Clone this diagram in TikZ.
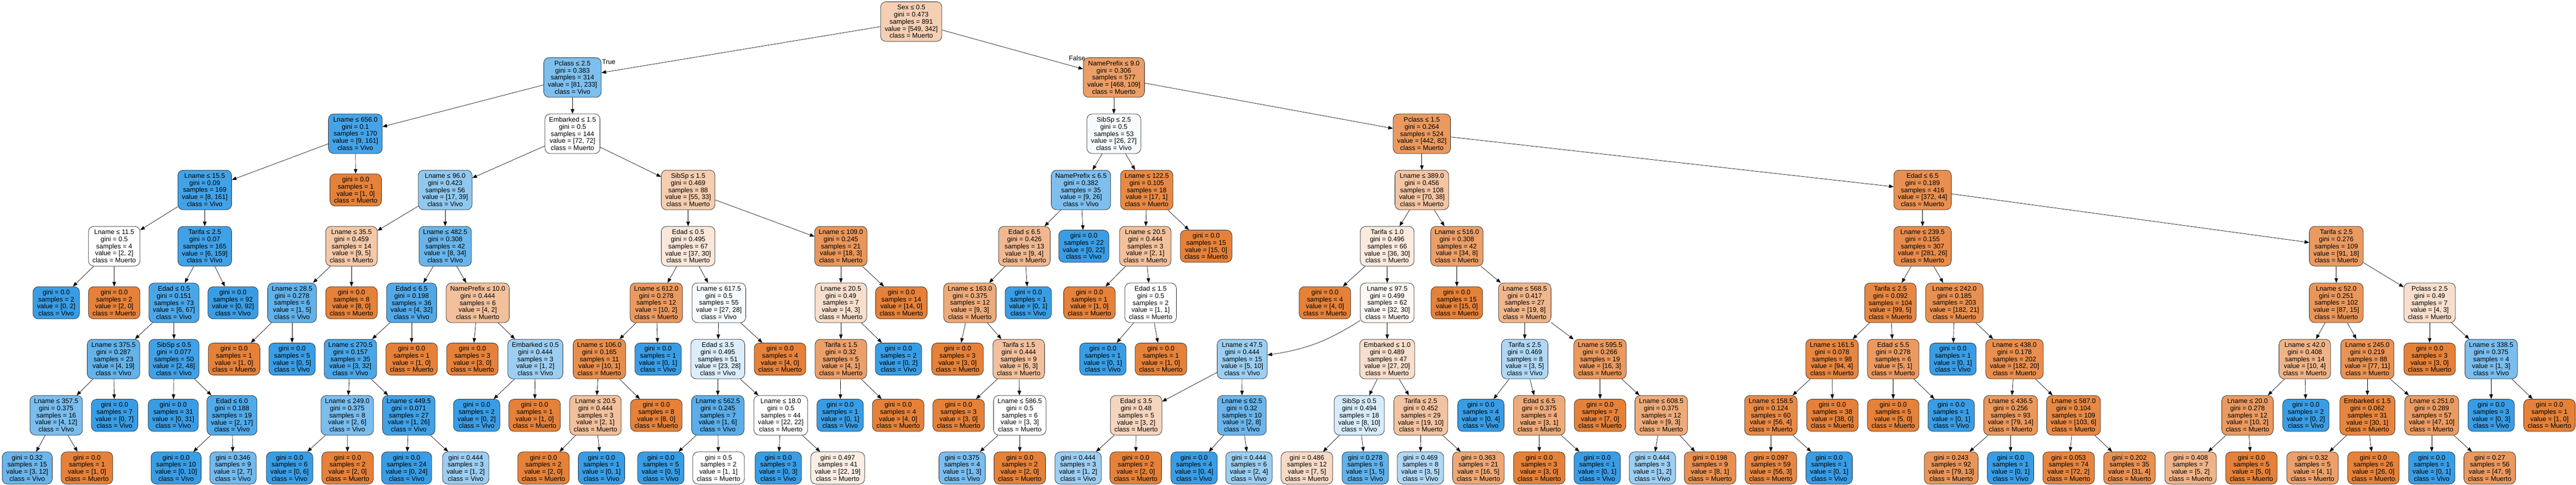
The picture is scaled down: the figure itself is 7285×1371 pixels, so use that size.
\documentclass[tikz,border=0pt]{standalone}
\usepackage{fontspec}
\setmainfont{Liberation Sans}
\usetikzlibrary{arrows.meta}
\definecolor{muerto}{RGB}{229,129,57}
\definecolor{vivo}{RGB}{57,157,229}
\tikzset{
  box/.style={draw=black!85, line width=1.1pt, rounded corners=15pt, align=center,
    inner xsep=11.5pt, inner ysep=2pt, font=\fontsize{18.8}{20}\selectfont},
  split/.style={box, minimum height=112pt},
  leaf/.style={box, minimum height=91pt},
  edge/.style={line width=1pt, -{Triangle[length=13pt,width=10pt]}},
  tf/.style={inner sep=0pt, font=\fontsize{18.8}{20}\selectfont}
}
% fill and class from the two counts
\newcommand{\countfill}[2]{%
  \pgfmathtruncatemacro\nodepct{round(100*(1-min(#1,#2)/max(#1,#2)))}%
  \ifnum#1<#2\relax\def\nodecol{vivo}\def\nodeklass{Vivo}\else\def\nodecol{muerto}\def\nodeklass{Muerto}\fi}
% name, x, y, test, gini, samples, muerto, vivo
\newcommand{\splitnode}[8]{%
  \countfill{#7}{#8}%
  \node[split, fill=\nodecol!\nodepct!white] (#1) at (#2,#3)
    {#4\\gini = #5\\samples = #6\\value = [#7, #8]\\class = \nodeklass};}
% name, x, y, gini, samples, muerto, vivo
\newcommand{\leafnode}[7]{%
  \countfill{#6}{#7}%
  \node[leaf, fill=\nodecol!\nodepct!white] (#1) at (#2,#3)
    {gini = #4\\samples = #5\\value = [#6, #7]\\class = \nodeklass};}
\begin{document}
\begin{tikzpicture}[x=1pt, y=-1pt]
  \fill[white] (0,0) rectangle (7285,1371);
  \useasboundingbox (0,0) rectangle (7285,1371);
  % level 0 - 2
  \splitnode{r}{2577}{61}{Sex ≤ 0.5}{0.473}{891}{549}{342}
  \splitnode{a1}{1619}{219}{Pclass ≤ 2.5}{0.383}{314}{81}{233}
  \splitnode{a2}{3150}{219}{NamePrefix ≤ 9.0}{0.306}{577}{468}{109}
  \splitnode{b1}{1005}{378}{Lname ≤ 656.0}{0.1}{170}{9}{161}
  \splitnode{b2}{1619}{378}{Embarked ≤ 1.5}{0.5}{144}{72}{72}
  \splitnode{b3}{3150}{378}{SibSp ≤ 2.5}{0.5}{53}{26}{27}
  \splitnode{b4}{4021}{378}{Pclass ≤ 1.5}{0.264}{524}{442}{82}
  % level 3
  \splitnode{c1}{579}{537}{Lname ≤ 15.5}{0.09}{169}{8}{161}
  \leafnode{c2}{1006}{537}{0.0}{1}{1}{0}
  \splitnode{c3}{1259}{537}{Lname ≤ 96.0}{0.423}{56}{17}{39}
  \splitnode{c4}{1946}{537}{SibSp ≤ 1.5}{0.469}{88}{55}{33}
  \splitnode{c5}{3057}{537}{NamePrefix ≤ 6.5}{0.382}{35}{9}{26}
  \splitnode{c6}{3243}{537}{Lname ≤ 122.5}{0.105}{18}{17}{1}
  \splitnode{c7}{4021}{537}{Lname ≤ 389.0}{0.456}{108}{70}{38}
  \splitnode{c8}{5437}{537}{Edad ≤ 6.5}{0.189}{416}{372}{44}
  % level 4
  \splitnode{d1}{323}{696}{Lname ≤ 11.5}{0.5}{4}{2}{2}
  \splitnode{d2}{579}{696}{Tarifa ≤ 2.5}{0.07}{165}{6}{159}
  \splitnode{d3}{994}{696}{Lname ≤ 35.5}{0.459}{14}{9}{5}
  \splitnode{d4}{1259}{696}{Lname ≤ 482.5}{0.308}{42}{8}{34}
  \splitnode{d5}{1946}{696}{Edad ≤ 0.5}{0.495}{67}{37}{30}
  \splitnode{d6}{2378}{696}{Lname ≤ 109.0}{0.245}{21}{18}{3}
  \splitnode{d7}{2897}{696}{Edad ≤ 6.5}{0.426}{13}{9}{4}
  \leafnode{d8}{3065}{696}{0.0}{22}{0}{22}
  \splitnode{d9}{3239}{696}{Lname ≤ 20.5}{0.444}{3}{2}{1}
  \leafnode{d10}{3411}{696}{0.0}{15}{15}{0}
  \splitnode{d11}{3923}{696}{Tarifa ≤ 1.0}{0.496}{66}{36}{30}
  \splitnode{d12}{4120}{696}{Lname ≤ 516.0}{0.308}{42}{34}{8}
  \splitnode{d13}{5437}{696}{Lname ≤ 239.5}{0.155}{307}{281}{26}
  \splitnode{d14}{6607}{696}{Tarifa ≤ 2.5}{0.276}{109}{91}{18}
  % level 5
  \leafnode{e1}{159}{856}{0.0}{2}{0}{2}
  \leafnode{e2}{323}{856}{0.0}{2}{2}{0}
  \splitnode{e3}{492}{856}{Edad ≤ 0.5}{0.151}{73}{6}{67}
  \leafnode{e4}{659}{856}{0.0}{92}{0}{92}
  \splitnode{e5}{826}{856}{Lname ≤ 28.5}{0.278}{6}{1}{5}
  \leafnode{e6}{994}{856}{0.0}{8}{8}{0}
  \splitnode{e7}{1164}{856}{Edad ≤ 6.5}{0.198}{36}{4}{32}
  \splitnode{e8}{1351}{856}{NamePrefix ≤ 10.0}{0.444}{6}{4}{2}
  \splitnode{e9}{1856}{856}{Lname ≤ 612.0}{0.278}{12}{10}{2}
  \splitnode{e10}{2033}{856}{Lname ≤ 617.5}{0.5}{55}{27}{28}
  \splitnode{e11}{2378}{856}{Lname ≤ 20.5}{0.49}{7}{4}{3}
  \leafnode{e12}{2549}{856}{0.0}{14}{14}{0}
  \splitnode{e13}{2743}{856}{Lname ≤ 163.0}{0.375}{12}{9}{3}
  \leafnode{e14}{2908}{856}{0.0}{1}{0}{1}
  \leafnode{e15}{3081}{856}{0.0}{1}{1}{0}
  \splitnode{e16}{3254}{856}{Edad ≤ 1.5}{0.5}{2}{1}{1}
  \leafnode{e17}{3747}{856}{0.0}{4}{4}{0}
  \splitnode{e18}{3923}{856}{Lname ≤ 97.5}{0.499}{62}{32}{30}
  \leafnode{e19}{4120}{856}{0.0}{15}{15}{0}
  \splitnode{e20}{4312}{856}{Lname ≤ 568.5}{0.417}{27}{19}{8}
  \splitnode{e21}{5346}{856}{Tarifa ≤ 2.5}{0.092}{104}{99}{5}
  \splitnode{e22}{5527}{856}{Lname ≤ 242.0}{0.185}{203}{182}{21}
  \splitnode{e23}{6607}{856}{Lname ≤ 52.0}{0.251}{102}{87}{15}
  \splitnode{e24}{6871}{856}{Pclass ≤ 2.5}{0.49}{7}{4}{3}
  % level 6
  \splitnode{f1}{321}{1015}{Lname ≤ 375.5}{0.287}{23}{4}{19}
  \splitnode{f2}{492}{1015}{SibSp ≤ 0.5}{0.077}{50}{2}{48}
  \leafnode{f3}{662}{1015}{0.0}{1}{1}{0}
  \leafnode{f4}{826}{1015}{0.0}{5}{0}{5}
  \splitnode{f5}{991}{1015}{Lname ≤ 270.5}{0.157}{35}{3}{32}
  \leafnode{f6}{1164}{1015}{0.0}{1}{1}{0}
  \leafnode{f7}{1336}{1015}{0.0}{3}{3}{0}
  \splitnode{f8}{1514}{1015}{Embarked ≤ 0.5}{0.444}{3}{1}{2}
  \splitnode{f9}{1695}{1015}{Lname ≤ 106.0}{0.165}{11}{10}{1}
  \leafnode{f10}{1861}{1015}{0.0}{1}{0}{1}
  \splitnode{f11}{2030}{1015}{Edad ≤ 3.5}{0.495}{51}{23}{28}
  \leafnode{f12}{2206}{1015}{0.0}{4}{4}{0}
  \splitnode{f13}{2378}{1015}{Tarifa ≤ 1.5}{0.32}{5}{4}{1}
  \leafnode{f14}{2541}{1015}{0.0}{2}{0}{2}
  \leafnode{f15}{2708}{1015}{0.0}{3}{3}{0}
  \splitnode{f16}{2881}{1015}{Tarifa ≤ 1.5}{0.444}{9}{6}{3}
  \leafnode{f17}{3119}{1015}{0.0}{1}{0}{1}
  \leafnode{f18}{3283}{1015}{0.0}{1}{1}{0}
  \splitnode{f19}{3513}{1015}{Lname ≤ 47.5}{0.444}{15}{5}{10}
  \splitnode{f20}{3923}{1015}{Embarked ≤ 1.0}{0.489}{47}{27}{20}
  \splitnode{f21}{4312}{1015}{Tarifa ≤ 2.5}{0.469}{8}{3}{5}
  \splitnode{f22}{4525}{1015}{Lname ≤ 595.5}{0.266}{19}{16}{3}
  \splitnode{f23}{5181}{1015}{Lname ≤ 161.5}{0.078}{98}{94}{4}
  \splitnode{f24}{5354}{1015}{Edad ≤ 5.5}{0.278}{6}{5}{1}
  \leafnode{f25}{5523}{1015}{0.0}{1}{0}{1}
  \splitnode{f26}{5697}{1015}{Lname ≤ 438.0}{0.178}{202}{182}{20}
  \splitnode{f27}{6518}{1015}{Lname ≤ 42.0}{0.408}{14}{10}{4}
  \splitnode{f28}{6695}{1015}{Lname ≤ 245.0}{0.219}{88}{77}{11}
  \leafnode{f29}{6871}{1015}{0.0}{3}{3}{0}
  \splitnode{f30}{7045}{1015}{Lname ≤ 338.5}{0.375}{4}{1}{3}
  % level 7
  \splitnode{g1}{159}{1174}{Lname ≤ 357.5}{0.375}{16}{4}{12}
  \leafnode{g2}{324}{1174}{0.0}{7}{0}{7}
  \leafnode{g3}{490}{1174}{0.0}{31}{0}{31}
  \splitnode{g4}{656}{1174}{Edad ≤ 6.0}{0.188}{19}{2}{17}
  \splitnode{g5}{982}{1174}{Lname ≤ 249.0}{0.375}{8}{2}{6}
  \splitnode{g6}{1156}{1174}{Lname ≤ 449.5}{0.071}{27}{1}{26}
  \leafnode{g7}{1348}{1174}{0.0}{2}{0}{2}
  \leafnode{g8}{1512}{1174}{0.0}{1}{1}{0}
  \splitnode{g9}{1684}{1174}{Lname ≤ 20.5}{0.444}{3}{2}{1}
  \leafnode{g10}{1856}{1174}{0.0}{8}{8}{0}
  \splitnode{g11}{2030}{1174}{Lname ≤ 562.5}{0.245}{7}{1}{6}
  \splitnode{g12}{2208}{1174}{Lname ≤ 18.0}{0.5}{44}{22}{22}
  \leafnode{g13}{2376}{1174}{0.0}{1}{0}{1}
  \leafnode{g14}{2540}{1174}{0.0}{4}{4}{0}
  \leafnode{g15}{2711}{1174}{0.0}{3}{3}{0}
  \splitnode{g16}{2884}{1174}{Lname ≤ 586.5}{0.5}{6}{3}{3}
  \splitnode{g17}{3213}{1174}{Edad ≤ 3.5}{0.48}{5}{3}{2}
  \splitnode{g18}{3512}{1174}{Lname ≤ 62.5}{0.32}{10}{2}{8}
  \splitnode{g19}{3844}{1174}{SibSp ≤ 0.5}{0.494}{18}{8}{10}
  \splitnode{g20}{4018}{1174}{Tarifa ≤ 2.5}{0.452}{29}{19}{10}
  \leafnode{g21}{4188}{1174}{0.0}{4}{0}{4}
  \splitnode{g22}{4353}{1174}{Edad ≤ 6.5}{0.375}{4}{3}{1}
  \leafnode{g23}{4525}{1174}{0.0}{7}{7}{0}
  \splitnode{g24}{4698}{1174}{Lname ≤ 608.5}{0.375}{12}{9}{3}
  \splitnode{g25}{5008}{1174}{Lname ≤ 158.5}{0.124}{60}{56}{4}
  \leafnode{g26}{5182}{1174}{0.0}{38}{38}{0}
  \leafnode{g27}{5354}{1174}{0.0}{5}{5}{0}
  \leafnode{g28}{5518}{1174}{0.0}{1}{0}{1}
  \splitnode{g29}{5686}{1174}{Lname ≤ 436.5}{0.256}{93}{79}{14}
  \splitnode{g30}{5864}{1174}{Lname ≤ 587.0}{0.104}{109}{103}{6}
  \splitnode{g31}{6356}{1174}{Lname ≤ 20.0}{0.278}{12}{10}{2}
  \leafnode{g32}{6521}{1174}{0.0}{2}{0}{2}
  \splitnode{g33}{6695}{1174}{Embarked ≤ 1.5}{0.062}{31}{30}{1}
  \splitnode{g34}{6877}{1174}{Lname ≤ 251.0}{0.289}{57}{47}{10}
  \leafnode{g35}{7045}{1174}{0.0}{3}{0}{3}
  \leafnode{g36}{7210}{1174}{0.0}{1}{1}{0}
  % level 8
  \leafnode{h1}{77}{1323}{0.32}{15}{3}{12}
  \leafnode{h2}{246}{1323}{0.0}{1}{1}{0}
  \leafnode{h3}{498}{1323}{0.0}{10}{0}{10}
  \leafnode{h4}{659}{1323}{0.346}{9}{2}{7}
  \leafnode{h5}{819}{1323}{0.0}{6}{0}{6}
  \leafnode{h6}{983}{1323}{0.0}{2}{2}{0}
  \leafnode{h7}{1150}{1323}{0.0}{24}{0}{24}
  \leafnode{h8}{1317}{1323}{0.444}{3}{1}{2}
  \leafnode{h9}{1537}{1323}{0.0}{2}{2}{0}
  \leafnode{h10}{1701}{1323}{0.0}{1}{0}{1}
  \leafnode{h11}{1869}{1323}{0.0}{5}{0}{5}
  \leafnode{h12}{2032}{1323}{0.5}{2}{1}{1}
  \leafnode{h13}{2201}{1323}{0.0}{3}{0}{3}
  \leafnode{h14}{2369}{1323}{0.497}{41}{22}{19}
  \leafnode{h15}{2721}{1323}{0.375}{4}{1}{3}
  \leafnode{h16}{2884}{1323}{0.0}{2}{2}{0}
  \leafnode{h17}{3049}{1323}{0.444}{3}{1}{2}
  \leafnode{h18}{3212}{1323}{0.0}{2}{2}{0}
  \leafnode{h19}{3377}{1323}{0.0}{4}{0}{4}
  \leafnode{h20}{3532}{1323}{0.444}{6}{2}{4}
  \leafnode{h21}{3696}{1323}{0.486}{12}{7}{5}
  \leafnode{h22}{3861}{1323}{0.278}{6}{1}{5}
  \leafnode{h23}{4017}{1323}{0.469}{8}{3}{5}
  \leafnode{h24}{4181}{1323}{0.363}{21}{16}{5}
  \leafnode{h25}{4353}{1323}{0.0}{3}{3}{0}
  \leafnode{h26}{4517}{1323}{0.0}{1}{0}{1}
  \leafnode{h27}{4673}{1323}{0.444}{3}{1}{2}
  \leafnode{h28}{4836}{1323}{0.198}{9}{8}{1}
  \leafnode{h29}{5008}{1323}{0.097}{59}{56}{3}
  \leafnode{h30}{5173}{1323}{0.0}{1}{0}{1}
  \leafnode{h31}{5518}{1323}{0.243}{92}{79}{13}
  \leafnode{h32}{5686}{1323}{0.0}{1}{0}{1}
  \leafnode{h33}{5850}{1323}{0.053}{74}{72}{2}
  \leafnode{h34}{6022}{1323}{0.202}{35}{31}{4}
  \leafnode{h35}{6195}{1323}{0.408}{7}{5}{2}
  \leafnode{h36}{6367}{1323}{0.0}{5}{5}{0}
  \leafnode{h37}{6540}{1323}{0.32}{5}{4}{1}
  \leafnode{h38}{6712}{1323}{0.0}{26}{26}{0}
  \leafnode{h39}{6877}{1323}{0.0}{1}{0}{1}
  \leafnode{h40}{7041}{1323}{0.27}{56}{47}{9}
  % edges
  \foreach \p/\c in {r/a1, r/a2, a1/b1, a1/b2, a2/b3, a2/b4,
      b1/c1, b1/c2, b2/c3, b2/c4, b3/c5, b3/c6, b4/c7, b4/c8,
      c1/d1, c1/d2, c3/d3, c3/d4, c4/d5, c4/d6, c5/d7, c5/d8, c6/d9, c6/d10,
      c7/d11, c7/d12, c8/d13, c8/d14,
      d1/e1, d1/e2, d2/e3, d2/e4, d3/e5, d3/e6, d4/e7, d4/e8, d5/e9, d5/e10,
      d6/e11, d6/e12, d7/e13, d7/e14, d9/e15, d9/e16, d11/e17, d11/e18,
      d12/e19, d12/e20, d13/e21, d13/e22, d14/e23, d14/e24,
      e3/f1, e3/f2, e5/f3, e5/f4, e7/f5, e7/f6, e8/f7, e8/f8, e9/f9, e9/f10,
      e10/f11, e10/f12, e11/f13, e11/f14, e13/f15, e13/f16, e16/f17, e16/f18,
      e18/f20, e20/f21, e20/f22, e21/f23, e21/f24, e22/f25, e22/f26,
      e23/f27, e23/f28, e24/f29, e24/f30,
      f1/g1, f1/g2, f2/g3, f2/g4, f5/g5, f5/g6, f8/g7, f8/g8, f9/g9, f9/g10,
      f11/g11, f11/g12, f13/g13, f13/g14, f16/g15, f16/g16, f19/g17, f19/g18,
      f20/g19, f20/g20, f21/g21, f21/g22, f22/g23, f22/g24, f23/g25, f23/g26,
      f24/g27, f24/g28, f26/g29, f26/g30, f27/g31, f27/g32, f28/g33, f28/g34,
      f30/g35, f30/g36,
      g1/h1, g1/h2, g4/h3, g4/h4, g5/h5, g5/h6, g6/h7, g6/h8, g9/h9, g9/h10,
      g11/h11, g11/h12, g12/h13, g12/h14, g16/h15, g16/h16, g17/h17, g17/h18,
      g18/h19, g18/h20, g19/h21, g19/h22, g20/h23, g20/h24, g22/h25, g22/h26,
      g24/h27, g24/h28, g25/h29, g25/h30, g29/h31, g29/h32, g30/h33, g30/h34,
      g31/h35, g31/h36, g33/h37, g33/h38, g34/h39, g34/h40}
    \draw[edge] (\p) -- (\c);
  \draw[edge] (e18) to[bend left=12] (f19);
  % branch labels
  \node[tf, anchor=base west] (ltrue) at ([xshift=1.6pt,yshift=-19pt]a1.north east) {True};
  \node[tf, anchor=base east] (lfalse) at ([xshift=6pt,yshift=-9pt]a2.north west) {False};
\end{tikzpicture}
\end{document}
